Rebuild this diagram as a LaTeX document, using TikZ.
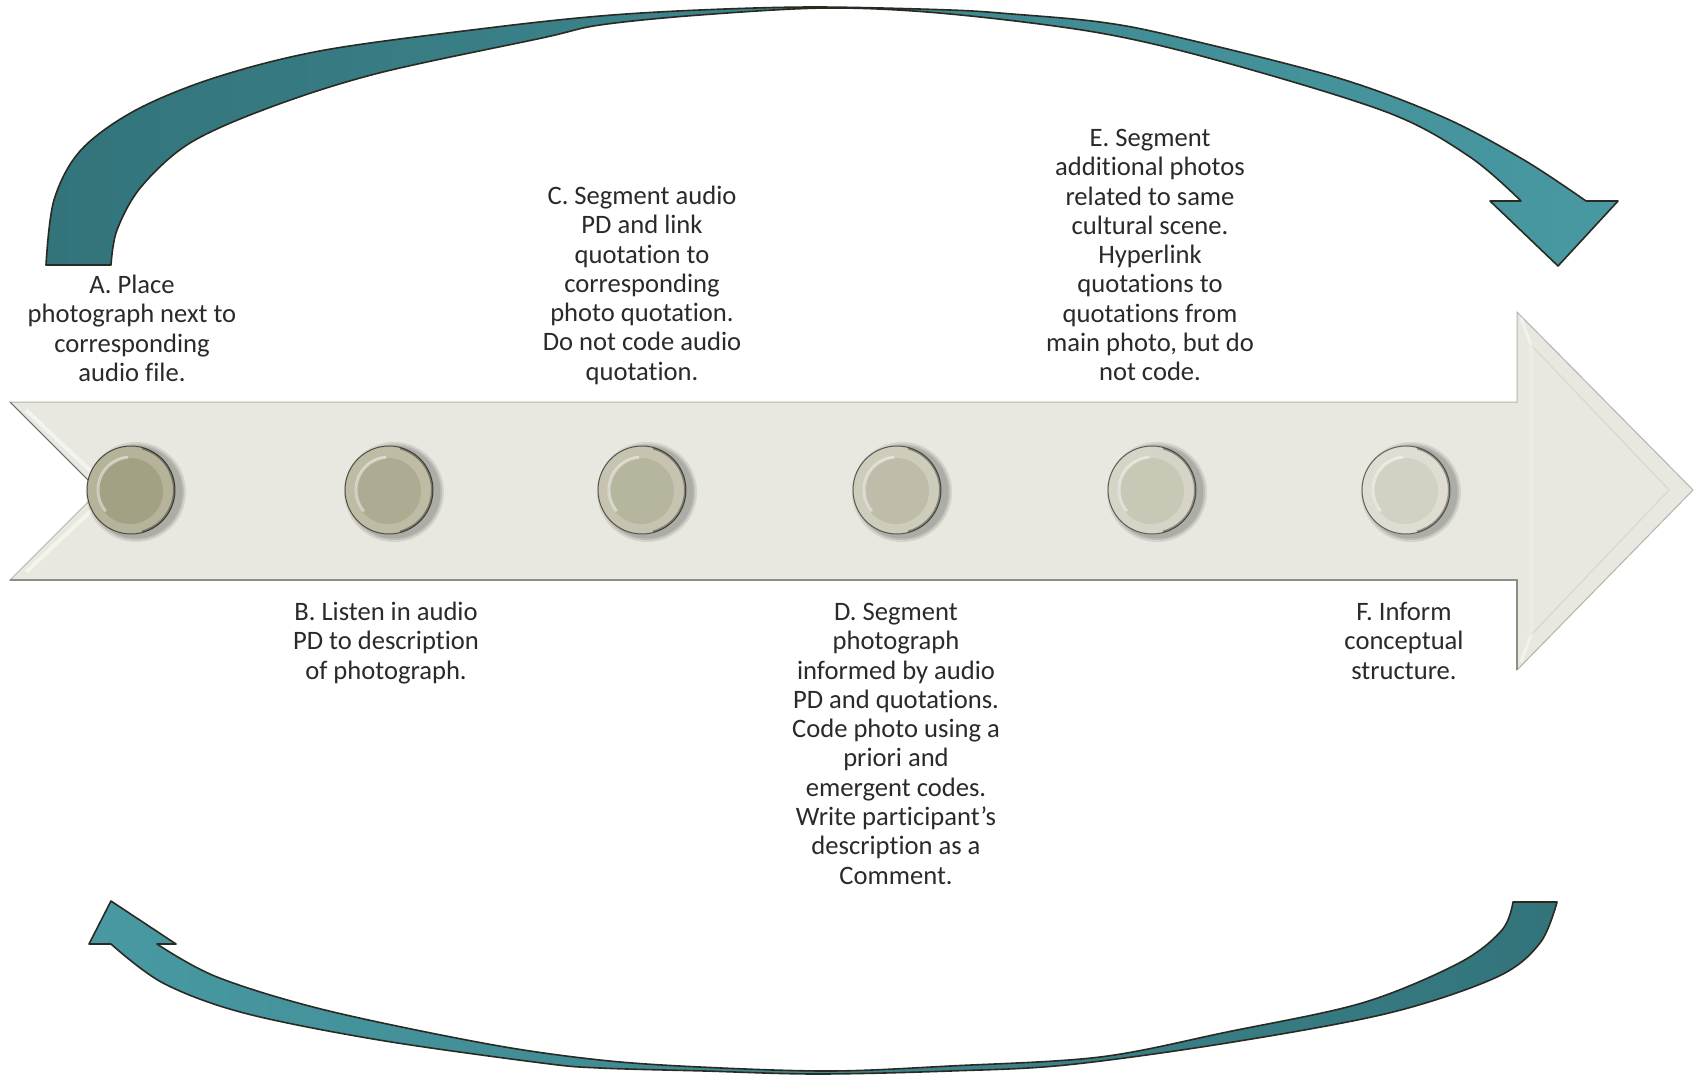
\documentclass[tikz,border=0pt]{standalone}
\usepackage{fontspec}
\setmainfont{Carlito}[Ligatures={NoCommon}]
\definecolor{inkgray}{HTML}{2A2A2A}
\definecolor{tealdark}{HTML}{33747B}
\definecolor{teallight}{HTML}{4899A2}
\definecolor{rimline}{HTML}{2B2A22}
\definecolor{barfill}{HTML}{E8E8E0}
\definecolor{baredge}{HTML}{B4B4AC}
\definecolor{barshadow}{HTML}{8E8E86}
\definecolor{bevel}{HTML}{D8D8CE}
\definecolor{vigA}{HTML}{F2F2F2}
\definecolor{vigB}{HTML}{E0E0E0}
\pgfdeclareradialshading{vignette}{\pgfpoint{0bp}{0bp}}{color(0bp)=(white); color(46bp)=(white); color(56bp)=(vigA); color(72bp)=(vigB)}
\begin{document}
\begin{tikzpicture}[x=0.5pt,y=-0.5pt,
  ribbon/.style={draw=rimline, line width=0.8pt, line join=round},
  steptext/.style={anchor=north, inner sep=0pt, align=center, text=inkgray,
    font=\fontsize{13.3}{14.65}\selectfont},
  dot/.style={circle, inner sep=0pt, minimum size=44pt, line width=0.5pt}]

% page and soft vignette
\useasboundingbox (0,0) rectangle (1695,1075);
\path[shading=vignette] (0,0) rectangle (1695,1075);

% upper return arrow (left to right)
\path[ribbon, left color=tealdark, right color=teallight]
  plot[smooth, tension=0.55] coordinates {(46,265) (54,200) (81,150) (136,110) (217,77) (325,50) (488,28) (600,16) (700,10) (815,7) (950,10) (1012,14) (1100,22) (1173,36) (1335,77) (1443,117) (1524,160) (1586,201)}
  -- (1618,201) -- (1558,266) -- (1490,201) -- (1521,201)
  -- plot[smooth, tension=0.55] coordinates {(1521,201) (1470,157) (1389,113) (1227,63) (1100,33) (950,14) (830,8) (700,15) (600,25) (542,38) (379,73) (271,107) (190,143) (141,187) (117,230) (111,265)}
  -- cycle;

% lower return arrow (right to left)
\path[ribbon, left color=teallight, right color=tealdark]
  plot[smooth, tension=0.55] coordinates {(1557,902) (1540,943) (1497,977) (1389,1013) (1227,1043) (1066,1065) (950,1071) (817,1074) (705,1071) (600,1068) (542,1063) (379,1040) (244,1013) (163,983) (111,944)}
  -- (89,944) -- (111,901) -- (176,944) -- (157,944)
  -- plot[smooth, tension=0.55] coordinates {(157,944) (217,977) (325,1010) (488,1044) (600,1060) (700,1067) (830,1071) (950,1066) (1100,1057) (1227,1032) (1362,1003) (1459,963) (1502,930) (1513,902)}
  -- cycle;

% main timeline arrow
\path[fill=barfill, draw=baredge, line width=0.5pt, line join=miter]
  (10,402) -- (1517,402) -- (1517,312) -- (1693,490) -- (1517,670) -- (1517,580) -- (10,580) -- (99,491) -- cycle;
\draw[barshadow, line width=0.9pt] (10,580) -- (1517,580) -- (1517,670);
\draw[black!60, line width=0.4pt] (10,402) -- (99,491);
% bevel of the arrow head and the notch
\draw[bevel, line width=0.6pt] (1531,345) -- (1669,490) -- (1531,635) -- cycle;
\draw[white, opacity=0.45, line width=1.5pt] (1521,318) -- (1531,345) -- (1531,635) -- (1521,662);
\draw[white, opacity=0.5, line width=2pt] (26,410) -- (112,491) -- (26,572);

% step markers along the timeline
\foreach \n/\x/\cr/\cg/\cb in {A/131/168/166/136, B/389/178/176/149, C/642/188/186/162, D/897/197/195/175, E/1152/207/205/188, F/1406/217/215/201} {
  \definecolor{face}{RGB}{\cr,\cg,\cb}
  \foreach \s in {50,48,46.5} {
    \fill[black, opacity=0.09] (\x+5,492) circle[radius=\s];
  }
  \node[dot, fill=face!85!white, draw=face!45!black] (dot\n) at (\x,490) {};
  \fill[face!97!black] ([xshift=-0.5pt,yshift=-0.5pt]dot\n.center) circle[radius=33];
  \draw[white, opacity=0.45, line width=1.5pt] ([shift={(140:33)}]dot\n.center) arc[start angle=140, end angle=265, radius=33];
  \draw[black, opacity=0.35, line width=1pt] ([shift={(-75:43)}]dot\n.center) arc[start angle=-75, end angle=75, radius=43];
}

% step descriptions above the timeline
\node[steptext] (txtA) at (132,271) {\rule{0pt}{11pt}A. Place\\photograph next to\\corresponding\\audio file.};
\node[steptext] (txtC) at (642,182) {\rule{0pt}{11pt}C. Segment audio\\PD and link\\quotation to\\corresponding\\photo quotation.\\Do not code audio\\quotation.};
\node[steptext] (txtE) at (1150,124) {\rule{0pt}{11pt}E. Segment\\additional photos\\related to same\\cultural scene.\\Hyperlink\\quotations to\\quotations from\\main photo, but do\\not code.};

% step descriptions below the timeline
\node[steptext] (txtB) at (386,598) {\rule{0pt}{11pt}B. Listen in audio\\PD to description\\of photograph.};
\node[steptext] (txtD) at (896,598) {\rule{0pt}{11pt}D. Segment\\photograph\\informed by audio\\PD and quotations.\\Code photo using a\\priori and\\emergent codes.\\Write participant’s\\description as a\\Comment.};
\node[steptext] (txtF) at (1404,598) {\rule{0pt}{11pt}F. Inform\\conceptual\\structure.};
\end{tikzpicture}
\end{document}
